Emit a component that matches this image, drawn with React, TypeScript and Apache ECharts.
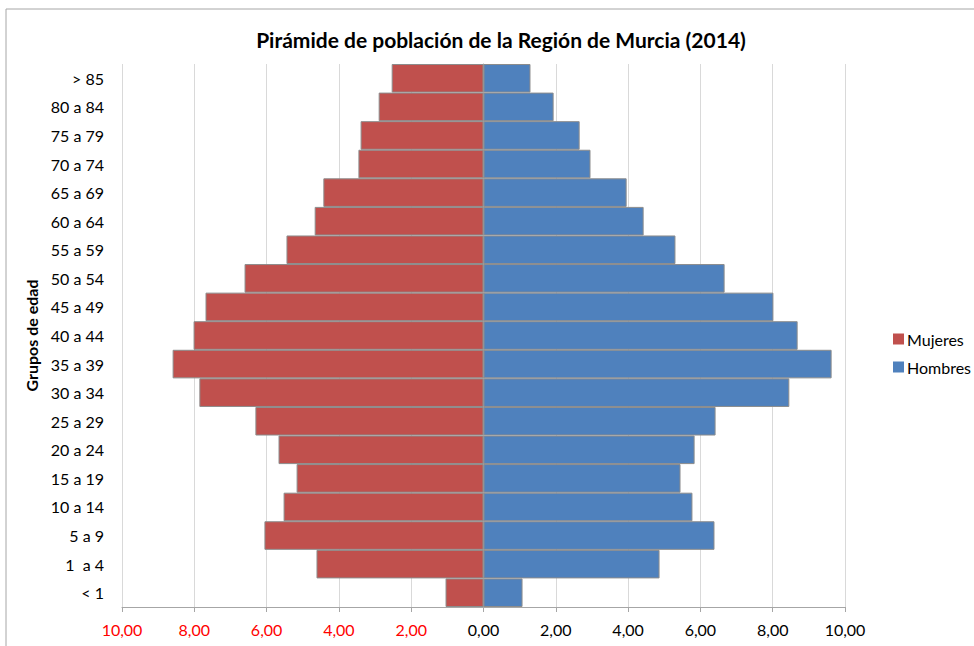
import React, { useEffect, useRef } from "react";
import * as echarts from "echarts";

const categories = ["< 1", "1  a 4", "5 a 9", "10 a 14", "15 a 19", "20 a 24", "25 a 29", "30 a 34", "35 a 39", "40 a 44", "45 a 49", "50 a 54", "55 a 59", "60 a 64", "65 a 69", "70 a 74", "75 a 79", "80 a 84", "> 85"];
const mujeres = [1.05, 4.62, 6.06, 5.53, 5.17, 5.67, 6.31, 7.86, 8.6, 8.02, 7.69, 6.61, 5.45, 4.67, 4.43, 3.46, 3.4, 2.9, 2.54];
const hombres = [1.08, 4.87, 6.39, 5.78, 5.45, 5.84, 6.42, 8.46, 9.63, 8.69, 8.02, 6.67, 5.31, 4.43, 3.96, 2.96, 2.66, 1.94, 1.3];
const xTicks = { min: -10, max: 10, interval: 2 };

const FONT = "Lato, 'Open Sans', sans-serif";

export default function App() {
  const ref = useRef<HTMLDivElement>(null);
  useEffect(() => {
    if (!ref.current) return;
    const chart = echarts.init(ref.current, null, { renderer: "svg" });
    chart.setOption({
      animation: false,
      backgroundColor: "#ffffff",
      textStyle: { fontFamily: FONT },
      graphic: [
        {
          type: "rect",
          shape: { x: 6, y: 9, width: 1000, height: 700 },
          style: { fill: "none", stroke: "#a6a6a6", lineWidth: 1 },
          silent: true,
        },
      ],
      title: {
        text: "Pirámide de población de la Región de Murcia (2014)",
        left: 496,
        textAlign: "center",
        top: 24,
        textStyle: { fontFamily: FONT, fontSize: 21, fontWeight: "bold", color: "#000" },
      },
      legend: {
        orient: "vertical",
        left: 888,
        top: 326,
        itemWidth: 11,
        itemHeight: 11,
        itemGap: 12,
        icon: "rect",
        itemStyle: { borderWidth: 0 },
        textStyle: { fontFamily: FONT, fontSize: 16, color: "#000", padding: [0, 0, 0, -2] },
        data: ["Mujeres", "Hombres"],
      },
      grid: { left: 122, right: 129, top: 64, bottom: 39 },
      xAxis: {
        type: "value",
        min: xTicks.min,
        max: xTicks.max,
        interval: xTicks.interval,
        axisLine: { show: true, lineStyle: { color: "#a6a6a6" } },
        axisTick: { show: true, length: 5, lineStyle: { color: "#a6a6a6" } },
        splitLine: { show: true, lineStyle: { color: "#d9d9d9" } },
        axisLabel: {
          margin: 14,
          fontSize: 16,
          fontFamily: FONT,
          color: (v: any) => (Number(v) < 0 ? "#ff0000" : "#000000"),
          formatter: (v: number) => Math.abs(v).toFixed(2).replace(".", ","),
        },
      },
      yAxis: {
        type: "category",
        data: categories,
        name: "Grupos de edad",
        nameLocation: "middle",
        nameGap: 80,
        nameRotate: 90,
        nameTextStyle: { fontFamily: FONT, fontSize: 16, fontWeight: "bold", color: "#000" },
        axisLine: { show: true, lineStyle: { color: "#a6a6a6" } },
        axisTick: { show: false },
        splitLine: { show: false },
        axisLabel: { margin: 18, fontSize: 16, fontFamily: FONT, color: "#000" },
      },
      series: [
        {
          name: "Mujeres",
          type: "bar",
          stack: "total",
          barCategoryGap: "0%",
          data: mujeres.map((v) => -v),
          itemStyle: { color: "#C0504D", borderColor: "#8c8c8c", borderWidth: 1 },
        },
        {
          name: "Hombres",
          type: "bar",
          stack: "total",
          barCategoryGap: "0%",
          data: hombres,
          itemStyle: { color: "#4F81BD", borderColor: "#8c8c8c", borderWidth: 1 },
        },
      ],
    });
    return () => chart.dispose();
  }, []);
  return <div ref={ref} style={{ width: 974, height: 646, position: "absolute", left: 0, top: 0 }} />;
}
